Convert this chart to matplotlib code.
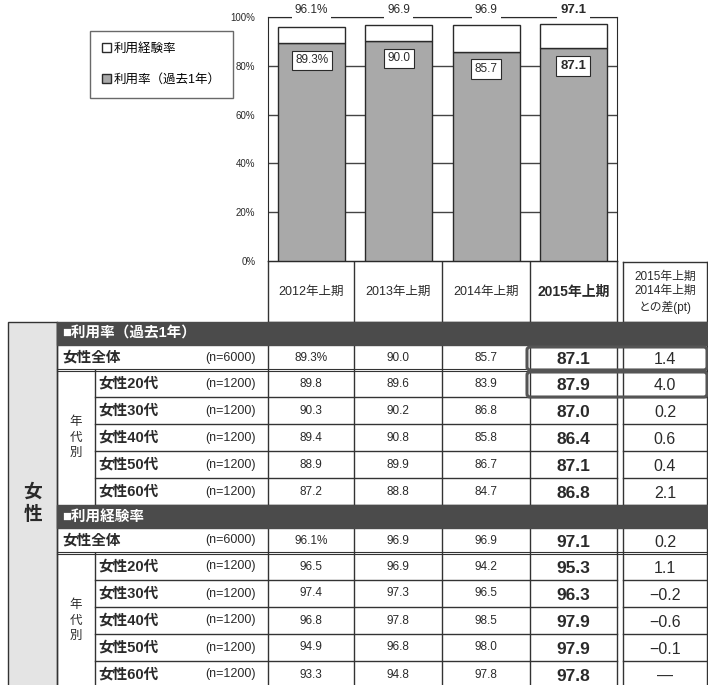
import numpy as np
import matplotlib.pyplot as plt
from matplotlib.patches import Rectangle, FancyBboxPatch, Patch

plt.rcParams['font.family'] = ['Liberation Sans', 'Noto Sans CJK JP']

periods = ['2012年上期', '2013年上期', '2014年上期', '2015年上期']
diff_header = '2015年上期\n2014年上期\nとの差(pt)'
row_labels = ['女性全体', '女性20代', '女性30代', '女性40代', '女性50代', '女性60代']
row_n = [6000, 1200, 1200, 1200, 1200, 1200]

# 利用率（過去1年）
use_2012 = [89.3, 89.8, 90.3, 89.4, 88.9, 87.2]
use_2013 = [90.0, 89.6, 90.2, 90.8, 89.9, 88.8]
use_2014 = [85.7, 83.9, 86.8, 85.8, 86.7, 84.7]
use_2015 = [87.1, 87.9, 87.0, 86.4, 87.1, 86.8]
use_diff = [1.4, 4.0, 0.2, 0.6, 0.4, 2.1]

# 利用経験率
exp_2012 = [96.1, 96.5, 97.4, 96.8, 94.9, 93.3]
exp_2013 = [96.9, 96.9, 97.3, 97.8, 96.8, 94.8]
exp_2014 = [96.9, 94.2, 96.5, 98.5, 98.0, 97.8]
exp_2015 = [97.1, 95.3, 96.3, 97.9, 97.9, 97.8]
exp_diff = [0.2, 1.1, -0.2, -0.6, -0.1, 0.0]

W, H = 708, 685
ink = '#2a2a2a'
fig = plt.figure(figsize=(W / 100, H / 100), dpi=100)

# full-figure axes in pixel units for the table part
tab = fig.add_axes([0, 0, 1, 1])
tab.set_xlim(0, W)
tab.set_ylim(H, 0)
tab.axis('off')

# ---- bar chart ----
ax = fig.add_axes([268 / W, (H - 261) / H, (617 - 268) / W, (261 - 17) / H])
bar_use = np.array([use_2012[0], use_2013[0], use_2014[0], use_2015[0]])
bar_exp = np.array([exp_2012[0], exp_2013[0], exp_2014[0], exp_2015[0]])
x = np.arange(len(periods))

b_use = ax.bar(x, bar_use, width=0.77, color='#a9a9a9', edgecolor=ink, lw=1, zorder=3)
b_exp = ax.bar(x, bar_exp - bar_use, bottom=bar_use, width=0.77, color='white',
               edgecolor=ink, lw=1, zorder=3)
ax.set_xlim(-0.5, 3.5)
ax.set_ylim(0, 100)
ax.set_xticks([])
ax.set_yticks(range(0, 101, 20))
ax.set_yticklabels([f'{v}%' for v in range(0, 101, 20)])
ax.tick_params(axis='y', length=0, pad=9, labelsize=7, colors=ink)
ax.grid(axis='y', color='#444444', lw=1)
ax.set_axisbelow(True)
for s in ax.spines.values():
    s.set_color(ink)

for i in x:
    last = i == len(x) - 1
    top = f'{bar_exp[i]:.1f}' + ('%' if i == 0 else '')
    ax.annotate(top, (i, 100), xytext=(0, 5), textcoords='offset points',
                ha='center', va='center', fontsize=9.5 if last else 8.5,
                fontweight='bold' if last else 'normal', color=ink,
                bbox=dict(boxstyle='square,pad=0.25', fc='white', ec='none'))
    inner = f'{bar_use[i]:.1f}' + ('%' if i == 0 else '')
    ax.text(i, bar_use[i] - 7, inner, ha='center', va='center',
            fontsize=9.5 if last else 8.5, fontweight='bold' if last else 'normal',
            color=ink, zorder=5,
            bbox=dict(boxstyle='square,pad=0.3', fc='white', ec=ink, lw=0.8))

fig.legend([Patch(fc='white', ec=ink), Patch(fc='#a9a9a9', ec=ink)],
           ['利用経験率', '利用率（過去1年）'], loc='upper left',
           bbox_to_anchor=(90 / W, 1 - 31 / H), fontsize=9, frameon=True,
           fancybox=False, edgecolor='#444444', handlelength=0.7, handleheight=0.7,
           handletextpad=0.25, labelspacing=1.5, borderpad=0.95, borderaxespad=0)

# ---- table ----
col_x = [268, 354, 442, 530, 617]
dx0, dx1 = 623, 707
lc = '#333333'


def hline(y, x0, x1, lw=1.0):
    tab.plot([x0, x1], [y, y], color=lc, lw=lw, zorder=2)


def vline(xv, y0, y1, lw=1.0):
    tab.plot([xv, xv], [y0, y1], color=lc, lw=lw, zorder=2)


# header
for i, p in enumerate(periods):
    last = i == len(periods) - 1
    tab.text((col_x[i] + col_x[i + 1]) / 2, 292, p, ha='center', va='center',
             fontsize=10 if last else 9, fontweight='bold' if last else 'normal', color=ink)
tab.text((dx0 + dx1) / 2, 292, diff_header, ha='center', va='center', fontsize=8.5,
         linespacing=1.3, color=ink)
hline(262, dx0, dx1)

# left column
tab.add_patch(Rectangle((8, 322), 49, H - 322 + 5, fc='#e4e4e4', ec=lc, lw=1, zorder=1))
tab.text(33, 504, '女\n性', ha='center', va='center', fontsize=13.5,
         fontweight='bold', linespacing=1.25, color=ink)

sections = [
    ('■利用率（過去1年）', [use_2012, use_2013, use_2014, use_2015], use_diff),
    ('■利用経験率', [exp_2012, exp_2013, exp_2014, exp_2015], exp_diff),
]
band_h, total_h, age_h = 23, 25, 27
y = 322
table_bottom = H + 10
for title, cols, diff in sections:
    tab.add_patch(Rectangle((57, y), W - 57, band_h, fc='#4b4b4b', ec='#4b4b4b', zorder=4))
    tab.text(62, y + band_h / 2, title, ha='left', va='center', fontsize=10.5,
             fontweight='bold', color='white', zorder=5)
    y += band_h
    age_top = y + total_h
    for r, lab in enumerate(row_labels):
        h = total_h if r == 0 else age_h
        yc = y + h / 2
        tab.text(62 if r == 0 else 98, yc, lab, ha='left', va='center', fontsize=10.5,
                 fontweight='bold', color=ink)
        tab.text(231, yc, f'(n={row_n[r]})', ha='center', va='center', fontsize=9, color=ink)
        for c, vals in enumerate(cols):
            last = c == len(cols) - 1
            txt = f'{vals[r]:.1f}' + ('%' if c == 0 and r == 0 else '')
            tab.text((col_x[c] + col_x[c + 1]) / 2, yc + (2 if last else 0), txt,
                     ha='center', va='center', fontsize=12.5 if last else 8.5,
                     fontweight='bold' if last else 'normal', color=ink)
        d = diff[r]
        dtxt = '—' if d == 0 else f'{d:.1f}'.replace('-', '−')
        tab.text((dx0 + dx1) / 2, yc + 2, dtxt, ha='center', va='center',
                 fontsize=11.5, color=ink)
        y += h
        if r == 0:
            hline(y - 1.2, 57, W, lw=0.8)
            hline(y + 1.2, 57, W, lw=0.8)
        else:
            hline(y, 95, col_x[-1])
            hline(y, dx0, dx1)
    tab.text(76, (age_top + y) / 2, '年\n代\n別', ha='center', va='center',
             fontsize=9, linespacing=1.4, color=ink)
    vline(95, age_top, y)

for xv in col_x:
    vline(xv, 261, table_bottom)
vline(dx0, 262, table_bottom)
vline(dx1, 262, table_bottom)
vline(57, 322, table_bottom)
hline(261, 268, 617)
hline(322, 268, 617)
hline(322, dx0, dx1)

# highlighted cells
for yb in [(347, 370), (372, 397)]:
    tab.add_patch(FancyBboxPatch((527, yb[0]), dx1 - 527, yb[1] - yb[0],
                                 boxstyle='round,pad=0,rounding_size=3',
                                 fc='none', ec='#555555', lw=2.2, zorder=6))

fig.savefig('out.png', dpi=100)
